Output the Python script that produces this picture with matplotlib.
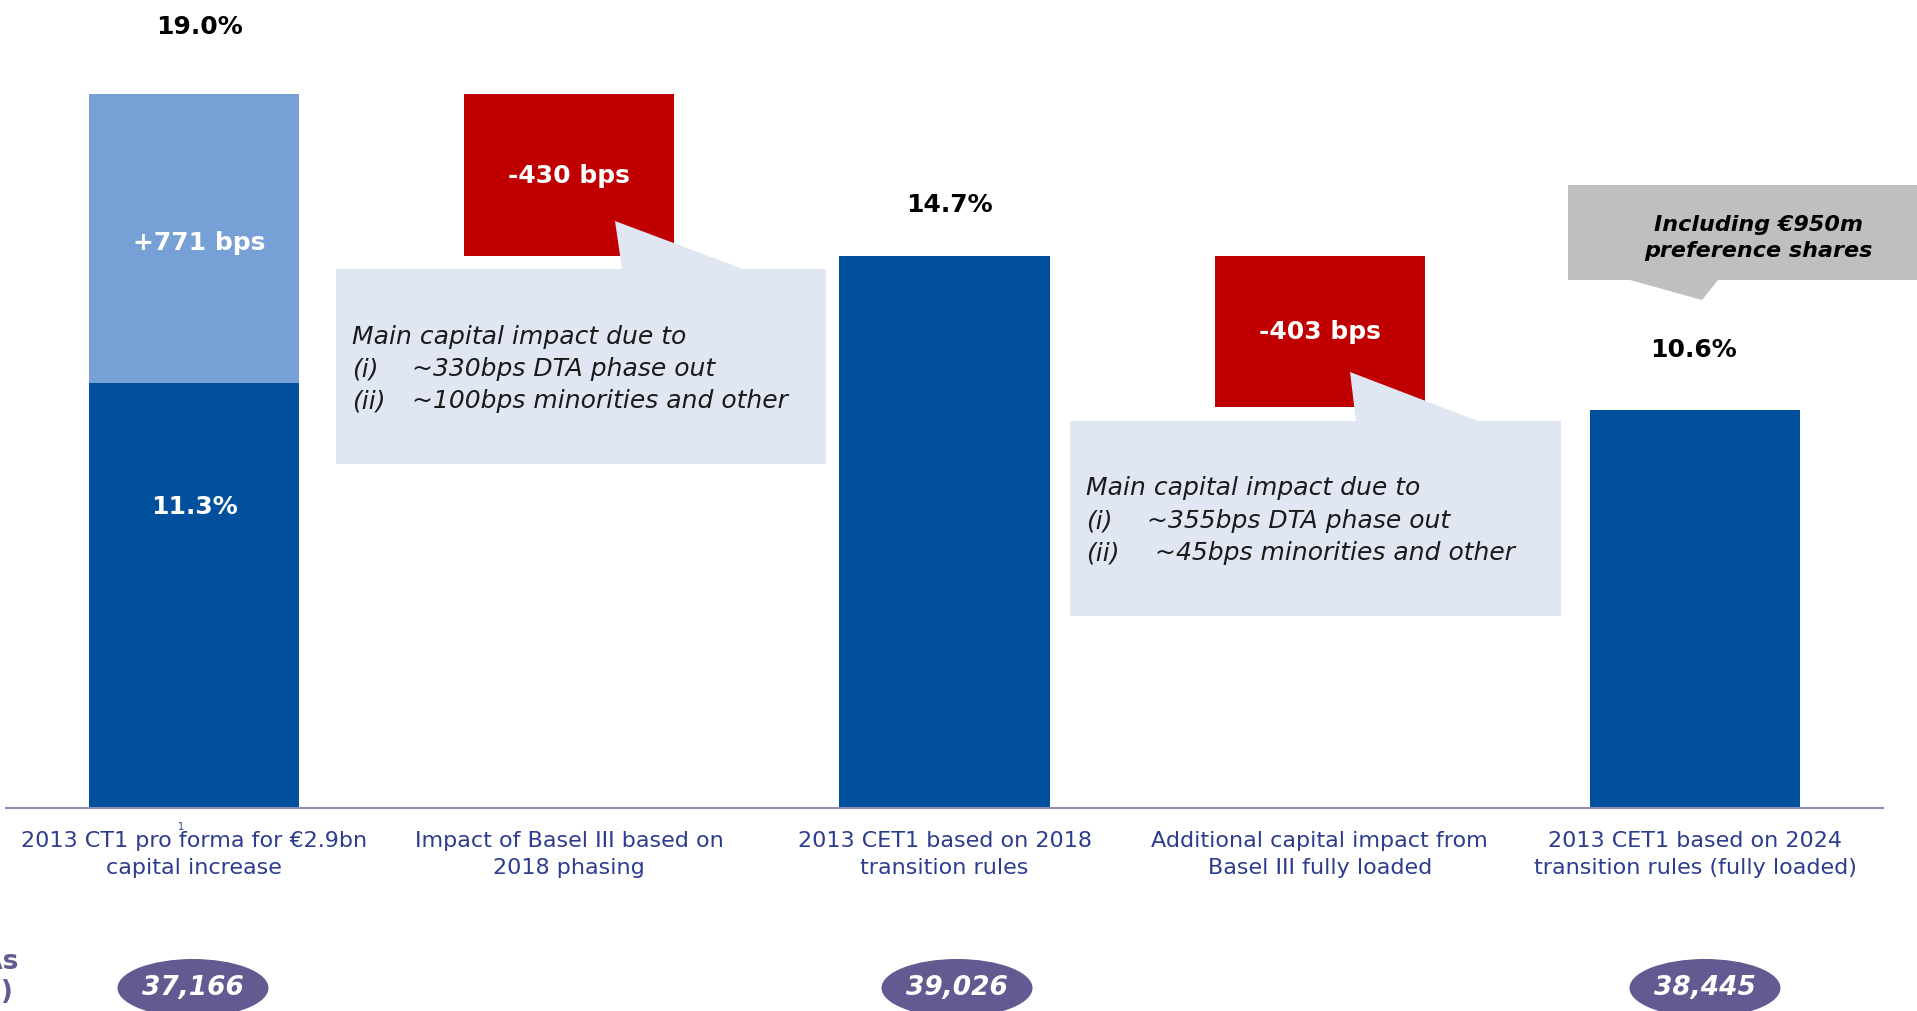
import matplotlib.pyplot as plt
from matplotlib.patches import Polygon, Ellipse

# CET1 bridge: pro forma ratio -> 2018 phasing -> fully loaded
categories = [
    "2013 CT1 pro forma for €2.9bn\ncapital increase",
    "Impact of Basel III based on\n2018 phasing",
    "2013 CET1 based on 2018\ntransition rules",
    "Additional capital impact from\nBasel III fully loaded",
    "2013 CET1 based on 2024\ntransition rules (fully loaded)",
]
cet1_pro_forma = 11.3
capital_increase_bps = 771
total_pro_forma = 19.0
basel_2018_bps = -430
cet1_2018 = 14.7
basel_full_bps = -403
cet1_2024 = 10.6

rwa_values = [37166, 39026, 38445]
rwa_pixel_x = [193, 957, 1705]

DARK = "#00509E"
LIGHT = "#77A1D6"
RED = "#C00000"
PALE = "#E0E6F2"
GREY = "#BFBFBF"
NAVY = "#2D3C8E"
PURPLE = "#625A91"

W, H = 1917, 1012
fig = plt.figure(figsize=(W / 100, H / 100), dpi=100)
fig.patch.set_facecolor("white")

# main axes: baseline at y=809px, 19% at y=95px
ax = fig.add_axes([6.4 / W, (H - 809) / H, 1876.3 / W, (809 - 95) / H])
ax.set_xlim(-0.5, 4.5)
ax.set_ylim(0, total_pro_forma)
ax.patch.set_alpha(0)

bw = 0.56
inc = capital_increase_bps / 100
ax.bar(0, cet1_pro_forma, bw, color=DARK, clip_on=False)
ax.bar(0, inc, bw, bottom=cet1_pro_forma, color=LIGHT, clip_on=False)
ax.bar(1, -basel_2018_bps / 100, bw, bottom=total_pro_forma + basel_2018_bps / 100,
       color=RED, clip_on=False)
ax.bar(2, cet1_2018, bw, color=DARK, clip_on=False)
ax.bar(3, -basel_full_bps / 100, bw, bottom=cet1_2018 + basel_full_bps / 100,
       color=RED, clip_on=False)
ax.bar(4, cet1_2024, bw, color=DARK, clip_on=False)

for s in ["top", "left", "right"]:
    ax.spines[s].set_visible(False)
ax.spines["bottom"].set_color("#8C8CB4")
ax.spines["bottom"].set_linewidth(1.5)
ax.set_yticks([])
ax.set_xticks(range(len(categories)), categories)
ax.tick_params(axis="x", length=0, pad=16, labelsize=16, labelcolor=NAVY)
for lbl in ax.get_xticklabels():
    lbl.set_linespacing(1.4)

# totals above bars
bold = dict(fontsize=18, fontweight="bold", ha="center", va="center")
ax.annotate(f"{total_pro_forma:.1f}%", (0, total_pro_forma), xytext=(5, 68),
            textcoords="offset pixels", color="black", annotation_clip=False, **bold)
ax.annotate(f"{cet1_2018:.1f}%", (2, cet1_2018), xytext=(5, 52),
            textcoords="offset pixels", color="black", annotation_clip=False, **bold)
ax.annotate(f"{cet1_2024:.1f}%", (4, cet1_2024), xytext=(-2, 61),
            textcoords="offset pixels", color="black", annotation_clip=False, **bold)

# labels inside bars
ax.annotate(f"+{capital_increase_bps} bps", (0, cet1_pro_forma + inc / 2), xytext=(5, -4),
            textcoords="offset pixels", color="white", **bold)
ax.annotate(f"{cet1_pro_forma:.1f}%", (0, cet1_pro_forma), xytext=(0, -123),
            textcoords="offset pixels", color="white", **bold)
ax.text(1, total_pro_forma + basel_2018_bps / 200, f"{basel_2018_bps} bps",
        color="white", **bold)
ax.text(3, cet1_2018 + basel_full_bps / 200, f"{basel_full_bps} bps",
        color="white", **bold)

# overlay in pixel coordinates for callouts and RWA bubbles
ov = fig.add_axes([0, 0, 1, 1])
ov.set_xlim(0, W)
ov.set_ylim(H, 0)
ov.axis("off")
ov.patch.set_alpha(0)

box1 = [(336, 270), (622, 270), (615, 222), (743, 270), (826, 270), (826, 465), (336, 465)]
box2 = [(1070, 422), (1356, 422), (1350, 373), (1478, 422), (1561, 422), (1561, 617), (1070, 617)]
grey = [(1568, 186), (1930, 186), (1930, 281), (1718, 281), (1702, 301), (1630, 281), (1568, 281)]
ov.add_patch(Polygon(box1, closed=True, facecolor=PALE, edgecolor="none"))
ov.add_patch(Polygon(box2, closed=True, facecolor=PALE, edgecolor="none"))
ov.add_patch(Polygon(grey, closed=True, facecolor=GREY, edgecolor="none"))

note = dict(fontsize=18, style="italic", color="#1A1A1A", va="center", ha="left")
ov.text(352, 337, "Main capital impact due to", **note)
ov.text(352, 369, "(i)", **note)
ov.text(412, 369, "~330bps DTA phase out", **note)
ov.text(352, 401, "(ii)", **note)
ov.text(412, 401, "~100bps minorities and other", **note)

ov.text(1086, 488, "Main capital impact due to", **note)
ov.text(1086, 521, "(i)", **note)
ov.text(1147, 521, "~355bps DTA phase out", **note)
ov.text(1086, 553, "(ii)", **note)
ov.text(1155, 553, "~45bps minorities and other", **note)

ov.text(1758, 238, "Including €950m\npreference shares", fontsize=16, style="italic",
        fontweight="bold", ha="center", va="center", linespacing=1.35, color="black")

ov.text(181, 827, "1", fontsize=7, color=NAVY, ha="center", va="center")

# risk-weighted assets bubbles
for x, v in zip(rwa_pixel_x, rwa_values):
    ov.add_patch(Ellipse((x, 989), 151, 58, facecolor=PURPLE, edgecolor="none"))
    ov.text(x, 988, f"{v:,}", fontsize=19, style="italic", fontweight="bold",
            color="white", ha="center", va="center")
ov.text(19, 962, "RWAs", fontsize=19, fontweight="bold", color=PURPLE, ha="right", va="center")
ov.text(14, 992, "(€m)", fontsize=19, fontweight="bold", color=PURPLE, ha="right", va="center")

fig.savefig("out.png", dpi=100)
